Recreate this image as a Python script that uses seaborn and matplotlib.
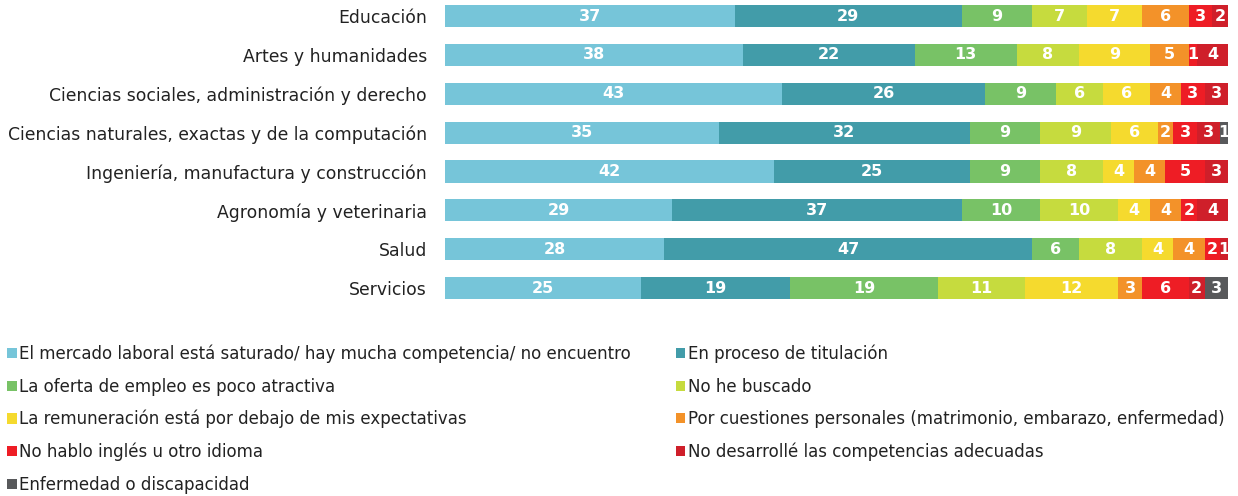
import numpy as np
import pandas as pd
import matplotlib
matplotlib.use('Agg')
import matplotlib.pyplot as plt
from matplotlib.patches import Patch
import seaborn as sns

sns.set_style('white')
plt.rcParams['font.family'] = ['DejaVu Sans']

categorias = ['Educación', 'Artes y humanidades', 'Ciencias sociales, administración y derecho',
              'Ciencias naturales, exactas y de la computación', 'Ingeniería, manufactura y construcción',
              'Agronomía y veterinaria', 'Salud', 'Servicios']

motivos = ['El mercado laboral está saturado/ hay mucha competencia/ no encuentro',
           'En proceso de titulación',
           'La oferta de empleo es poco atractiva',
           'No he buscado',
           'La remuneración está por debajo de mis expectativas',
           'Por cuestiones personales (matrimonio, embarazo, enfermedad)',
           'No hablo inglés u otro idioma',
           'No desarrollé las competencias adecuadas',
           'Enfermedad o discapacidad']

mercado = [37, 38, 43, 35, 42, 29, 28, 25]
titulacion = [29, 22, 26, 32, 25, 37, 47, 19]
oferta = [9, 13, 9, 9, 9, 10, 6, 19]
no_buscado = [7, 8, 6, 9, 8, 10, 8, 11]
remuneracion = [7, 9, 6, 6, 4, 4, 4, 12]
personales = [6, 5, 4, 2, 4, 4, 4, 3]
ingles = [3, 1, 3, 3, 5, 2, 2, 6]
competencias = [2, 4, 3, 3, 3, 4, 1, 2]
enfermedad = [0, 0, 0, 1, 0, 0, 0, 3]

colores = ['#76C5D9', '#429CA9', '#78C266', '#C6DB3E', '#F5DA2E', '#F39229', '#EE1D25', '#CF1F2A', '#58595B']

series = [mercado, titulacion, oferta, no_buscado, remuneracion, personales, ingles, competencias, enfermedad]
df = pd.DataFrame(dict(zip(motivos, series)), index=categorias)
acum = df.cumsum(axis=1)

fig = plt.figure(figsize=(12.38, 4.96), dpi=100)
ax = fig.add_axes([0.3595, 0.388, 0.6325, 0.611])

# stacked bars: draw cumulative totals from last to first
for i in range(len(motivos) - 1, -1, -1):
    d = pd.DataFrame({'cat': categorias, 'val': acum.iloc[:, i].values})
    sns.barplot(data=d, x='val', y='cat', color=colores[i], orient='h',
                width=0.57, saturation=1, ax=ax, edgecolor='none')

for i, m in enumerate(motivos):
    for j, c in enumerate(categorias):
        v = df.loc[c, m]
        if v > 0:
            ax.text(acum.loc[c, m] - v / 2, j, str(v), ha='center', va='center',
                    color='white', fontsize=11.5, fontweight='bold')

ax.set_xlim(0, 100)
ax.set_ylim(7.4, -0.4)
ax.set_xlabel('')
ax.set_ylabel('')
ax.set_xticks([])
ax.tick_params(axis='y', length=0, labelsize=12.4, pad=13, colors='#222222')
sns.despine(ax=ax, left=True, bottom=True)

handles = [Patch(facecolor=colores[i], edgecolor='none') for i in range(len(motivos))]
izq = [0, 2, 4, 6, 8]
der = [1, 3, 5, 7]
kw = dict(frameon=False, fontsize=12, handlelength=0.55, handleheight=0.55,
          handletextpad=0.15, labelspacing=0.86, borderaxespad=0, borderpad=0)
leg1 = fig.legend([handles[i] for i in izq], [motivos[i] for i in izq],
                  loc='upper left', bbox_to_anchor=(0.006, 0.305), **kw)
leg2 = fig.legend([handles[i] for i in der], [motivos[i] for i in der],
                  loc='upper left', bbox_to_anchor=(0.546, 0.305), **kw)
for t in leg1.get_texts() + leg2.get_texts():
    t.set_color('#222222')

fig.savefig('out.png', dpi=100)
